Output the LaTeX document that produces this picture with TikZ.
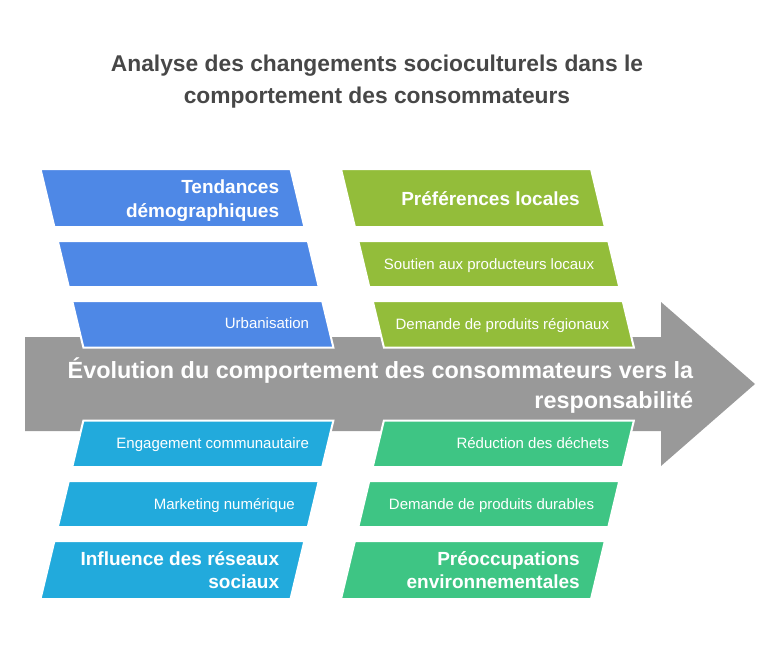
\documentclass[tikz,border=0pt]{standalone}
\usepackage{fontspec}
\setmainfont{Liberation Sans}
\definecolor{cblue}{HTML}{4E88E6}
\definecolor{cgreenA}{HTML}{93BD3A}
\definecolor{ccyan}{HTML}{22AADC}
\definecolor{cgreenB}{HTML}{3EC584}
\definecolor{cgray}{HTML}{999999}
\definecolor{ctitle}{HTML}{474747}
\begin{document}
\begin{tikzpicture}[x=1pt,y=-1pt,
  boxshape/.style={draw=white, line width=2pt, line join=miter},
  bigtxt/.style={font=\fontsize{19}{23.5}\selectfont\bfseries, text=white, align=right, inner sep=0pt, anchor=base east},
  smalltxt/.style={font=\fontsize{15}{18}\selectfont, text=white, inner sep=0pt, anchor=base east},
  maintxt/.style={font=\fontsize{23.4}{30}\selectfont\bfseries, text=white, align=right, inner sep=0pt, anchor=base east},
  titletxt/.style={font=\fontsize{22.8}{31.6}\selectfont\bfseries, text=ctitle, align=center, inner sep=0pt, anchor=base}
]
\useasboundingbox (0,0) rectangle (780,648);
% title (anchor = baseline of last line)
\node[titletxt] (title) at (377,103.3) {Analyse des changements socioculturels dans le\\comportement des consommateurs};
% main arrow
\fill[cgray] (25,337) -- (661,337) -- (661,302) -- (755,384) -- (661,466) -- (661,431) -- (25,431) -- cycle;
% top-left blue boxes
\filldraw[boxshape, fill=cblue] (40.5,169) -- (290.5,169) -- (304.4,227) -- (54.4,227) -- cycle;
\filldraw[boxshape, fill=cblue] (57.8,241) -- (307.8,241) -- (318.8,287) -- (68.8,287) -- cycle;
\filldraw[boxshape, fill=cblue] (72.2,301) -- (322.2,301) -- (333.4,347.5) -- (83.4,347.5) -- cycle;
% top-right green boxes
\filldraw[boxshape, fill=cgreenA] (341,169) -- (591,169) -- (604.9,227) -- (354.9,227) -- cycle;
\filldraw[boxshape, fill=cgreenA] (358.3,241) -- (608.3,241) -- (619.3,287) -- (369.3,287) -- cycle;
\filldraw[boxshape, fill=cgreenA] (372.7,301) -- (622.7,301) -- (633.9,347.5) -- (383.9,347.5) -- cycle;
% bottom-left cyan boxes
\filldraw[boxshape, fill=ccyan] (83.4,420.5) -- (333.4,420.5) -- (322.2,467) -- (72.2,467) -- cycle;
\filldraw[boxshape, fill=ccyan] (68.8,481) -- (318.8,481) -- (307.8,527) -- (57.8,527) -- cycle;
\filldraw[boxshape, fill=ccyan] (54.4,541) -- (304.4,541) -- (290.5,599) -- (40.5,599) -- cycle;
% bottom-right green boxes
\filldraw[boxshape, fill=cgreenB] (383.9,420.5) -- (633.9,420.5) -- (622.7,467) -- (372.7,467) -- cycle;
\filldraw[boxshape, fill=cgreenB] (369.3,481) -- (619.3,481) -- (608.3,527) -- (358.3,527) -- cycle;
\filldraw[boxshape, fill=cgreenB] (354.9,541) -- (604.9,541) -- (591,599) -- (341,599) -- cycle;
% main text
\node[maintxt] (main) at (693.3,408) {Évolution du comportement des consommateurs vers la\\responsabilité};
% labels
\node[bigtxt] (tl1) at (279.3,217) {Tendances\\démographiques};
\node[smalltxt] (tl3) at (309.3,328.7) {Urbanisation};
\node[bigtxt] (tr1) at (580,205) {Préférences locales};
\node[smalltxt] (tr2) at (594.3,269.4) {Soutien aux producteurs locaux};
\node[smalltxt] (tr3) at (609.3,329.4) {Demande de produits régionaux};
\node[smalltxt] (bl1) at (309.3,448.7) {Engagement communautaire};
\node[smalltxt] (bl2) at (295,509.4) {Marketing numérique};
\node[bigtxt] (bl3) at (279.3,588.5) {Influence des réseaux\\sociaux};
\node[smalltxt] (br1) at (609.3,448.7) {Réduction des déchets};
\node[smalltxt] (br2) at (594.3,509.4) {Demande de produits durables};
\node[bigtxt] (br3) at (580,588.5) {Préoccupations\\environnementales};
\end{tikzpicture}
\end{document}
